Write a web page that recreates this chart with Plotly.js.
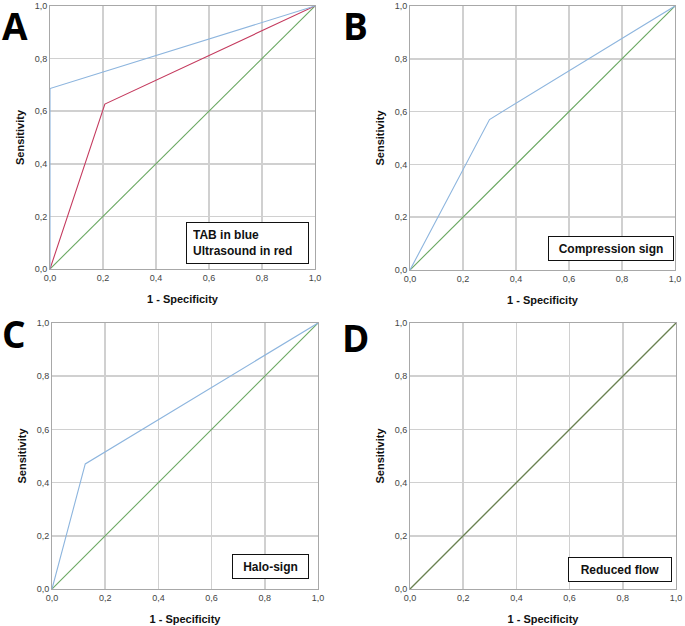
<!DOCTYPE html>
<html><head><meta charset="utf-8">
<script src="https://cdn.plot.ly/plotly-3.0.1.min.js"></script>
<style>html,body{margin:0;padding:0;background:#fff}#chart{width:685px;height:626px}</style>
</head><body><div id="chart"></div>
<script>
// Data
const tickVals = [0, 0.2, 0.4, 0.6, 0.8, 1.0];
const tickLabels = ['0,0', '0,2', '0,4', '0,6', '0,8', '1,0'];
const refX = [0, 1], refY = [0, 1];
const tabX = [0, 0, 1], tabY = [0, 0.686, 1];
const usX = [0, 0.207, 1], usY = [0, 0.627, 1];
const compX = [0, 0.30, 1], compY = [0, 0.57, 1];
const haloX = [0, 0.125, 1], haloY = [0, 0.47, 1];
const flowX = [0, 1], flowY = [0, 1];
const panelLetters = ['A', 'B', 'C', 'D'];
const boxTexts = ['<b>TAB in blue<br>Ultrasound in red</b>', '<b>Compression sign</b>', '<b>Halo-sign</b>', '<b>Reduced flow</b>'];

const BLUE = '#8db5de', RED = '#c43a5e', GREEN = '#6aa862', OLIVE = '#6c7a50';

function line(x, y, color, ax, w) {
  return {x: x, y: y, type: 'scatter', mode: 'lines', xaxis: 'x' + ax, yaxis: 'y' + ax,
          line: {color: color, width: w || 1.1}, hoverinfo: 'skip', showlegend: false};
}
const data = [
  line(refX, refY, GREEN, ''), line(usX, usY, RED, ''), line(tabX, tabY, BLUE, ''),
  line(refX, refY, GREEN, '2'), line(compX, compY, BLUE, '2'),
  line(refX, refY, GREEN, '3'), line(haloX, haloY, BLUE, '3'),
  line(refX, refY, GREEN, '4'), line(flowX, flowY, OLIVE, '4')
];

const W = 685, H = 626;
// pixel boxes [left, right, top, bottom]
const boxes = [[50, 315, 6, 269], [410, 675, 6, 270], [52, 318, 323, 589], [410, 676, 323, 589]];

function axis(dom, isX, anchor) {
  return {
    domain: dom, range: [0, 1], anchor: anchor, tickvals: tickVals, ticktext: tickLabels,
    showgrid: true, gridcolor: '#d0d0d0', gridwidth: 1.5, zeroline: false,
    showline: true, linecolor: '#a8a8a8', linewidth: 1, mirror: true,
    ticks: '', tickfont: {family: 'Liberation Sans, Arial', size: 9, color: '#444'},
    fixedrange: true,
    title: {text: '<b>' + (isX ? '1 - Specificity' : 'Sensitivity') + '</b>',
            font: {family: 'Liberation Sans, Arial', size: 11, color: '#111'},
            standoff: isX ? 13 : 7}
  };
}
const layout = {
  width: W, height: H, margin: {l: 0, r: 0, t: 0, b: 0},
  paper_bgcolor: '#fff', plot_bgcolor: '#fff', showlegend: false,
  annotations: []
};
const suffix = ['', '2', '3', '4'];
boxes.forEach((b, i) => {
  const xd = [b[0] / W, b[1] / W], yd = [1 - b[3] / H, 1 - b[2] / H];
  layout['xaxis' + suffix[i]] = axis(xd, true, 'y' + suffix[i]);
  layout['yaxis' + suffix[i]] = axis(yd, false, 'x' + suffix[i]);
});
// panel letters
const letterPos = [[15, 25], [355, 25], [14, 333], [355, 337]];
letterPos.forEach((p, i) => {
  layout.annotations.push({xref: 'paper', yref: 'paper', x: p[0] / W, y: 1 - p[1] / H,
    xanchor: 'center', yanchor: 'middle', showarrow: false, text: '<b>' + panelLetters[i] + '</b>',
    font: {family: 'Open Sans', size: 37, color: '#000'}});
});
// label boxes (axis coords): x, y, width, height, pad
const boxPos = [[0.745, 0.099, 109, 28, 6], [0.76, 0.081, 120, 19, 2], [0.821, 0.085, 71, 19, 2], [0.789, 0.073, 98, 19, 2]];
boxPos.forEach((p, i) => {
  layout.annotations.push({xref: 'x' + suffix[i], yref: 'y' + suffix[i], x: p[0], y: p[1],
    xanchor: 'center', yanchor: 'middle', showarrow: false, text: boxTexts[i],
    align: i === 0 ? 'left' : 'center', width: p[2], height: p[3],
    bordercolor: '#111', borderwidth: 1, borderpad: p[4], bgcolor: '#fff',
    font: {family: 'Liberation Sans, Arial', size: 12, color: '#111'}});
});
Plotly.newPlot('chart', data, layout, {displayModeBar: false, staticPlot: true});
</script></body></html>
